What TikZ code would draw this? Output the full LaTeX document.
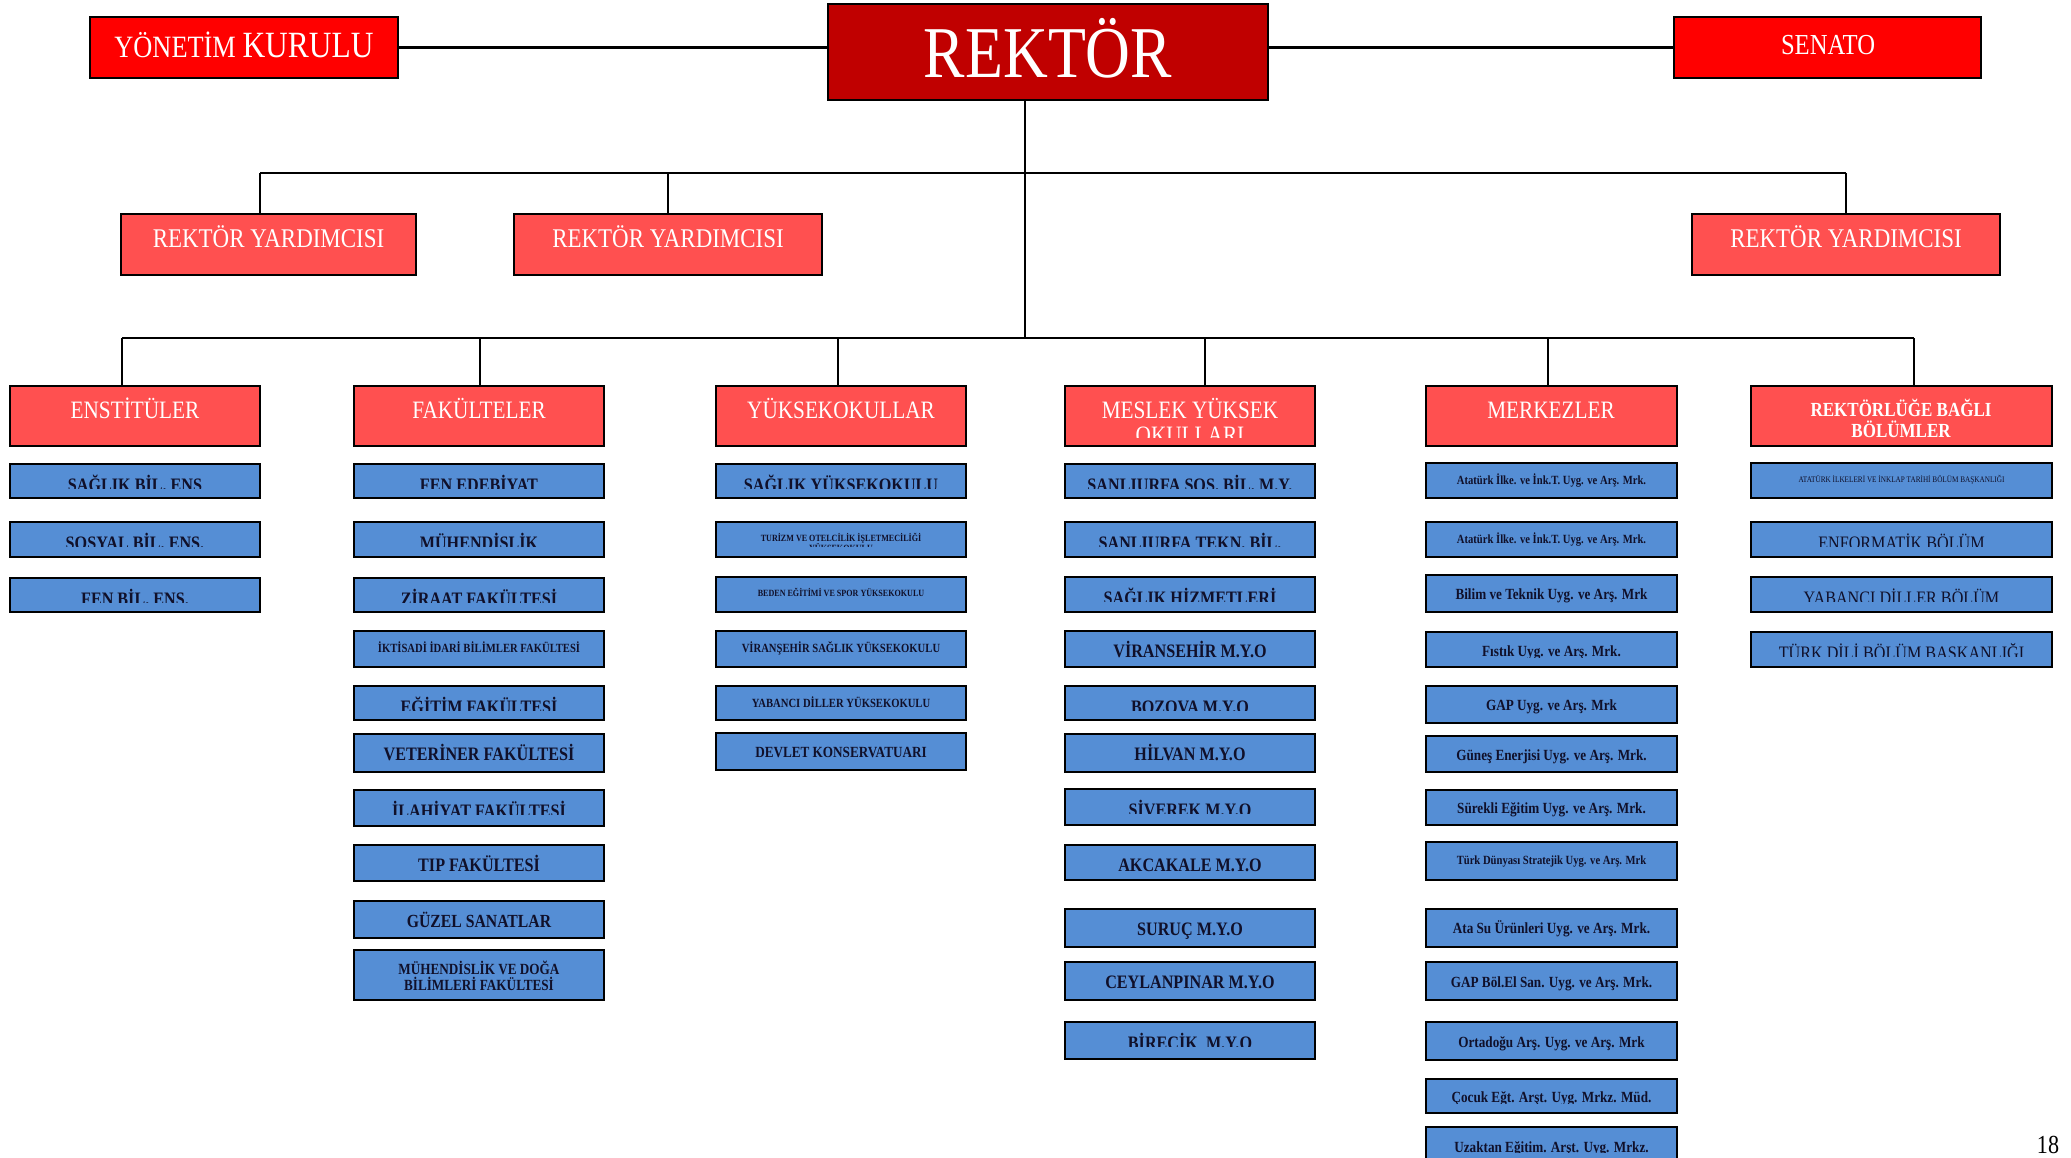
\documentclass[tikz,border=0pt]{standalone}
\usepackage{fontspec}
\setmainfont{Liberation Serif}
\newfontfamily\cond{Liberation Serif}[FakeStretch=0.85]
\usetikzlibrary{fit}
\definecolor{dred}{HTML}{C00000}
\definecolor{pred}{HTML}{FF0000}
\definecolor{lred}{HTML}{FF5050}
\definecolor{bblue}{HTML}{558ED5}
\definecolor{navy}{HTML}{10102A}
\tikzset{
  boxbase/.style={draw=black, line width=2.5pt, inner sep=0pt, outer sep=0pt, rectangle},
  bluebox/.style={boxbase, fill=bblue},
  redbox/.style={boxbase, fill=lred},
  conn/.style={draw=black, line width=2.5pt},
  bluetext/.style={anchor=base, text=navy, inner sep=0pt},
  whitetext/.style={anchor=base, text=white, inner sep=0pt},
}
\newcommand\boxfont{\cond\bfseries}
% name, x1, y1, x2, y2, clip-y, fontsize, baseline, text
\newcommand\bbox[9]{%
  \node[bluebox, fit={(#2,#3)(#4,#5)}] (#1) {};
  \begin{scope}
    \clip (#2,#3) rectangle (#4,#6);
    \node[bluetext, font=\boxfont\fontsize{#7}{#7}\selectfont] (#1-t) at ({(#2+#4)/2},#8) {#9};
  \end{scope}}
\newcommand\rbox[5]{\node[redbox, fit={(#2,#3)(#4,#5)}] (#1) {};}
\begin{document}
\begin{tikzpicture}[x=1pt,y=-1pt]
\useasboundingbox (0,0) rectangle (2071,1158);

% ---- top level ----
\node[boxbase, fill=dred, fit={(828,4)(1268,100)}] (rektor) {};
\node[whitetext, font=\cond\fontsize{73}{73}\selectfont] (rektor-t) at (1048,77.5) {REKTÖR};
\node[boxbase, fill=pred, fit={(90,17)(398,78)}] (yk) {};
\node[whitetext, font=\cond] (yk-t) at (244,58) {\fontsize{31}{31}\selectfont YÖNETİM \fontsize{37}{37}\selectfont KURULU};
\node[boxbase, fill=pred, fit={(1674,17)(1981,78)}] (senato) {};
\node[whitetext, font=\cond\fontsize{29}{29}\selectfont] (senato-t) at (1828,55) {SENATO};

\draw[conn] (yk.east) -- (yk.east -| rektor.west);
\draw[conn] (senato.west -| rektor.east) -- (senato.west);

% ---- rektör yardımcıları ----
\rbox{ry1}{121}{214}{416}{275}
\rbox{ry2}{514}{214}{822}{275}
\rbox{ry3}{1692}{214}{2000}{275}
\foreach \n in {ry1,ry2,ry3}{
  \node[whitetext, font=\cond\fontsize{27}{27}\selectfont] at (\n.center |- 0,248) {REKTÖR YARDIMCISI};
}

\coordinate (trA) at (1025,173);
\coordinate (trB) at (1025,338);
\coordinate (h1L) at (260,173);
\coordinate (h1R) at (1846,173);
\draw[conn] (rektor.south -| trA) -- (trB);
\draw[conn] (h1L) -- (h1R);
\draw[conn] (h1L) -- (h1L |- ry1.north);
\draw[conn] (ry2.north |- h1L) -- (ry2.north);
\draw[conn] (h1R) -- (h1R |- ry3.north);

% ---- category headers ----
\rbox{ens}{10}{386}{260}{446}
\rbox{fak}{354}{386}{604}{446}
\rbox{yuk}{716}{386}{966}{446}
\rbox{mes}{1065}{386}{1315}{446}
\rbox{mer}{1426}{386}{1677}{446}
\rbox{rek}{1751}{386}{2052}{446}

\node[whitetext, font=\cond\fontsize{25}{25}\selectfont] at (135,418.8) {ENSTİTÜLER};
\node[whitetext, font=\cond\fontsize{25}{25}\selectfont] at (479,418.8) {FAKÜLTELER};
\node[whitetext, font=\cond\fontsize{25}{25}\selectfont] at (841,418.8) {YÜKSEKOKULLAR};
\begin{scope}
  \clip (1065,386) rectangle (1315,437);
  \node[whitetext, font=\cond\fontsize{25}{25}\selectfont] at (1190,418.3) {MESLEK YÜKSEK};
  \node[whitetext, font=\cond\fontsize{25}{25}\selectfont] at (1190,443.3) {OKULLARI};
\end{scope}
\node[whitetext, font=\cond\fontsize{25}{25}\selectfont] at (1551,418.8) {MERKEZLER};
\node[whitetext, font=\cond\bfseries\fontsize{20}{20}\selectfont] at (1901,416) {REKTÖRLÜĞE BAĞLI};
\node[whitetext, font=\cond\bfseries\fontsize{20}{20}\selectfont] at (1901,437) {BÖLÜMLER};

\coordinate (h2L) at (122,338);
\coordinate (h2R) at (1914,338);
\coordinate (dFak) at (480,338);
\coordinate (dYuk) at (838,338);
\coordinate (dMes) at (1205,338);
\coordinate (dMer) at (1548,338);
\draw[conn] (h2L) -- (h2R);
\draw[conn] (h2L) -- (h2L |- ens.north);
\draw[conn] (dFak) -- (dFak |- fak.north);
\draw[conn] (dYuk) -- (dYuk |- yuk.north);
\draw[conn] (dMes) -- (dMes |- mes.north);
\draw[conn] (dMer) -- (dMer |- mer.north);
\draw[conn] (h2R) -- (h2R |- rek.north);

% ---- ENSTİTÜLER ----
\bbox{e1}{10}{464}{260}{498}{488.5}{19}{491}{SAĞLIK BİL. ENS}
\bbox{e2}{10}{522}{260}{557}{546.5}{19}{549}{SOSYAL BİL. ENS.}
\bbox{e3}{10}{578}{260}{612}{602.5}{19}{605}{FEN BİL. ENS.}

% ---- FAKÜLTELER ----
\bbox{f1}{354}{464}{604}{498}{488.5}{19}{491}{FEN EDEBİYAT}
\bbox{f2}{354}{522}{604}{557}{546.5}{19}{549}{MÜHENDİSLİK}
\bbox{f3}{354}{578}{604}{612}{602.5}{19}{605}{ZİRAAT FAKÜLTESİ}
\bbox{f4}{354}{631}{604}{667}{667}{12.5}{652.2}{İKTİSADİ İDARİ BİLİMLER FAKÜLTESİ}
\bbox{f5}{354}{686}{604}{720}{710.5}{19}{713}{EĞİTİM FAKÜLTESİ}
\bbox{f6}{354}{734}{604}{772}{772}{19}{760.8}{VETERİNER FAKÜLTESİ}
\bbox{f7}{354}{790}{604}{826}{814.5}{19}{817}{İLAHİYAT FAKÜLTESİ}
\bbox{f8}{354}{845}{604}{881}{881}{19}{871.4}{TIP FAKÜLTESİ}
\bbox{f9}{354}{901}{604}{938}{938}{18.5}{927.8}{GÜZEL SANATLAR}
\bbox{f10}{354}{950}{604}{1000}{1000}{15.5}{974.3}{MÜHENDİSLİK VE DOĞA}
\node[bluetext, font=\boxfont\fontsize{15.5}{15.5}\selectfont] (f10-t2) at (479,990.3) {BİLİMLERİ FAKÜLTESİ};

% ---- YÜKSEKOKULLAR ----
\bbox{y1}{716}{464}{966}{498}{488.5}{19}{491}{SAĞLIK YÜKSEKOKULU}
\bbox{y2}{716}{522}{966}{557}{546.5}{9.5}{541}{TURİZM VE OTELCİLİK İŞLETMECİLİĞİ}
\begin{scope}
  \clip (716,522) rectangle (966,546.5);
  \node[bluetext, font=\boxfont\fontsize{9.5}{9.5}\selectfont] (y2-t2) at (841,551.5) {YÜKSEKOKULU};
\end{scope}
\bbox{y3}{716}{577}{966}{612}{612}{9.5}{596.2}{BEDEN EĞİTİMİ VE SPOR YÜKSEKOKULU}
\bbox{y4}{716}{631}{966}{667}{667}{12.5}{652.7}{VİRANŞEHİR SAĞLIK YÜKSEKOKULU}
\bbox{y5}{716}{686}{966}{720}{720}{12.5}{707.2}{YABANCI DİLLER YÜKSEKOKULU}
\bbox{y6}{716}{733}{966}{770}{770}{15.5}{757.8}{DEVLET KONSERVATUARI}

% ---- MESLEK YÜKSEKOKULLARI ----
\bbox{m1}{1065}{464}{1315}{498}{488.5}{19}{491}{SANLIURFA SOS. BİL. M.Y.}
\bbox{m2}{1065}{522}{1315}{557}{546.5}{19}{549}{SANLIURFA TEKN. BİL.}
\bbox{m3}{1065}{577}{1315}{612}{601.5}{19}{604}{SAĞLIK HİZMETLERİ}
\bbox{m4}{1065}{631}{1315}{667}{667}{19}{657.4}{VİRANSEHİR M.Y.O}
\bbox{m5}{1065}{686}{1315}{720}{710.5}{19}{713}{BOZOVA M.Y.O}
\bbox{m6}{1065}{734}{1315}{772}{772}{19}{760.4}{HİLVAN M.Y.O}
\bbox{m7}{1065}{789}{1315}{825}{813.5}{19}{816}{SİVEREK M.Y.O}
\bbox{m8}{1065}{845}{1315}{880}{880}{19}{871.4}{AKCAKALE M.Y.O}
\bbox{m9}{1065}{909}{1315}{947}{947}{19}{935.4}{SURUÇ M.Y.O}
\bbox{m10}{1065}{962}{1315}{1000}{1000}{19}{988.9}{CEYLANPINAR M.Y.O}
\bbox{m11}{1065}{1022}{1315}{1059}{1046.5}{19}{1049}{BİRECİK\ \ M.Y.O}

% ---- MERKEZLER ----
\bbox{k1}{1426}{463}{1677}{498}{498}{12.5}{484.2}{Atatürk İlke. ve İnk.T. Uyg. ve Arş. Mrk.}
\bbox{k2}{1426}{522}{1677}{557}{557}{12.5}{543.7}{Atatürk İlke. ve İnk.T. Uyg. ve Arş. Mrk.}
\bbox{k3}{1426}{575}{1677}{612}{612}{15.5}{599.2}{Bilim ve Teknik Uyg. ve Arş. Mrk}
\bbox{k4}{1426}{632}{1677}{667}{657}{15.5}{656.5}{Fıstık Uyg. ve Arş. Mrk.}
\bbox{k5}{1426}{686}{1677}{723}{723}{15.5}{710.2}{GAP Uyg. ve Arş. Mrk}
\bbox{k6}{1426}{736}{1677}{772}{772}{15.5}{760.7}{Güneş Enerjisi Uyg. ve Arş. Mrk.}
\bbox{k7}{1426}{790}{1677}{825}{825}{15.5}{813.2}{Sürekli Eğitim Uyg. ve Arş. Mrk.}
\bbox{k8}{1426}{842}{1677}{880}{880}{12.5}{864.7}{Türk Dünyası Stratejik Uyg. ve Arş. Mrk}
\bbox{k9}{1426}{909}{1677}{947}{947}{15.5}{933.7}{Ata Su Ürünleri Uyg. ve Arş. Mrk.}
\bbox{k10}{1426}{962}{1677}{1000}{1000}{15.5}{987.7}{GAP Böl.El San. Uyg. ve Arş. Mrk.}
\bbox{k11}{1426}{1022}{1677}{1060}{1060}{15.5}{1047.7}{Ortadoğu Arş. Uyg. ve Arş. Mrk}
\bbox{k12}{1426}{1079}{1677}{1113}{1103.5}{15.5}{1102.7}{Çocuk Eğt. Arşt. Uyg. Mrkz. Müd.}
\bbox{k13}{1426}{1127}{1677}{1175}{1152.5}{15.5}{1152.2}{Uzaktan Eğitim. Arşt. Uyg. Mrkz.}

% ---- REKTÖRLÜĞE BAĞLI BÖLÜMLER ----
\renewcommand\boxfont{\cond}
\bbox{r1}{1751}{463}{2052}{498}{498}{8.5}{482.4}{ATATÜRK İLKELERİ VE İNKLAP TARİHİ BÖLÜM BAŞKANLIĞI}
\bbox{r2}{1751}{522}{2052}{557}{546.5}{19}{549.5}{ENFORMATİK BÖLÜM}
\bbox{r3}{1751}{577}{2052}{612}{601.5}{19}{604.5}{YABANCI DİLLER BÖLÜM}
\bbox{r4}{1751}{632}{2052}{667}{656.5}{19}{659.5}{TÜRK DİLİ BÖLÜM BAŞKANLIĞI}

% ---- page number ----
\node[anchor=base, inner sep=0pt, font=\cond\fontsize{26}{26}\selectfont] (pg) at (2048,1153) {18};
\end{tikzpicture}
\end{document}
